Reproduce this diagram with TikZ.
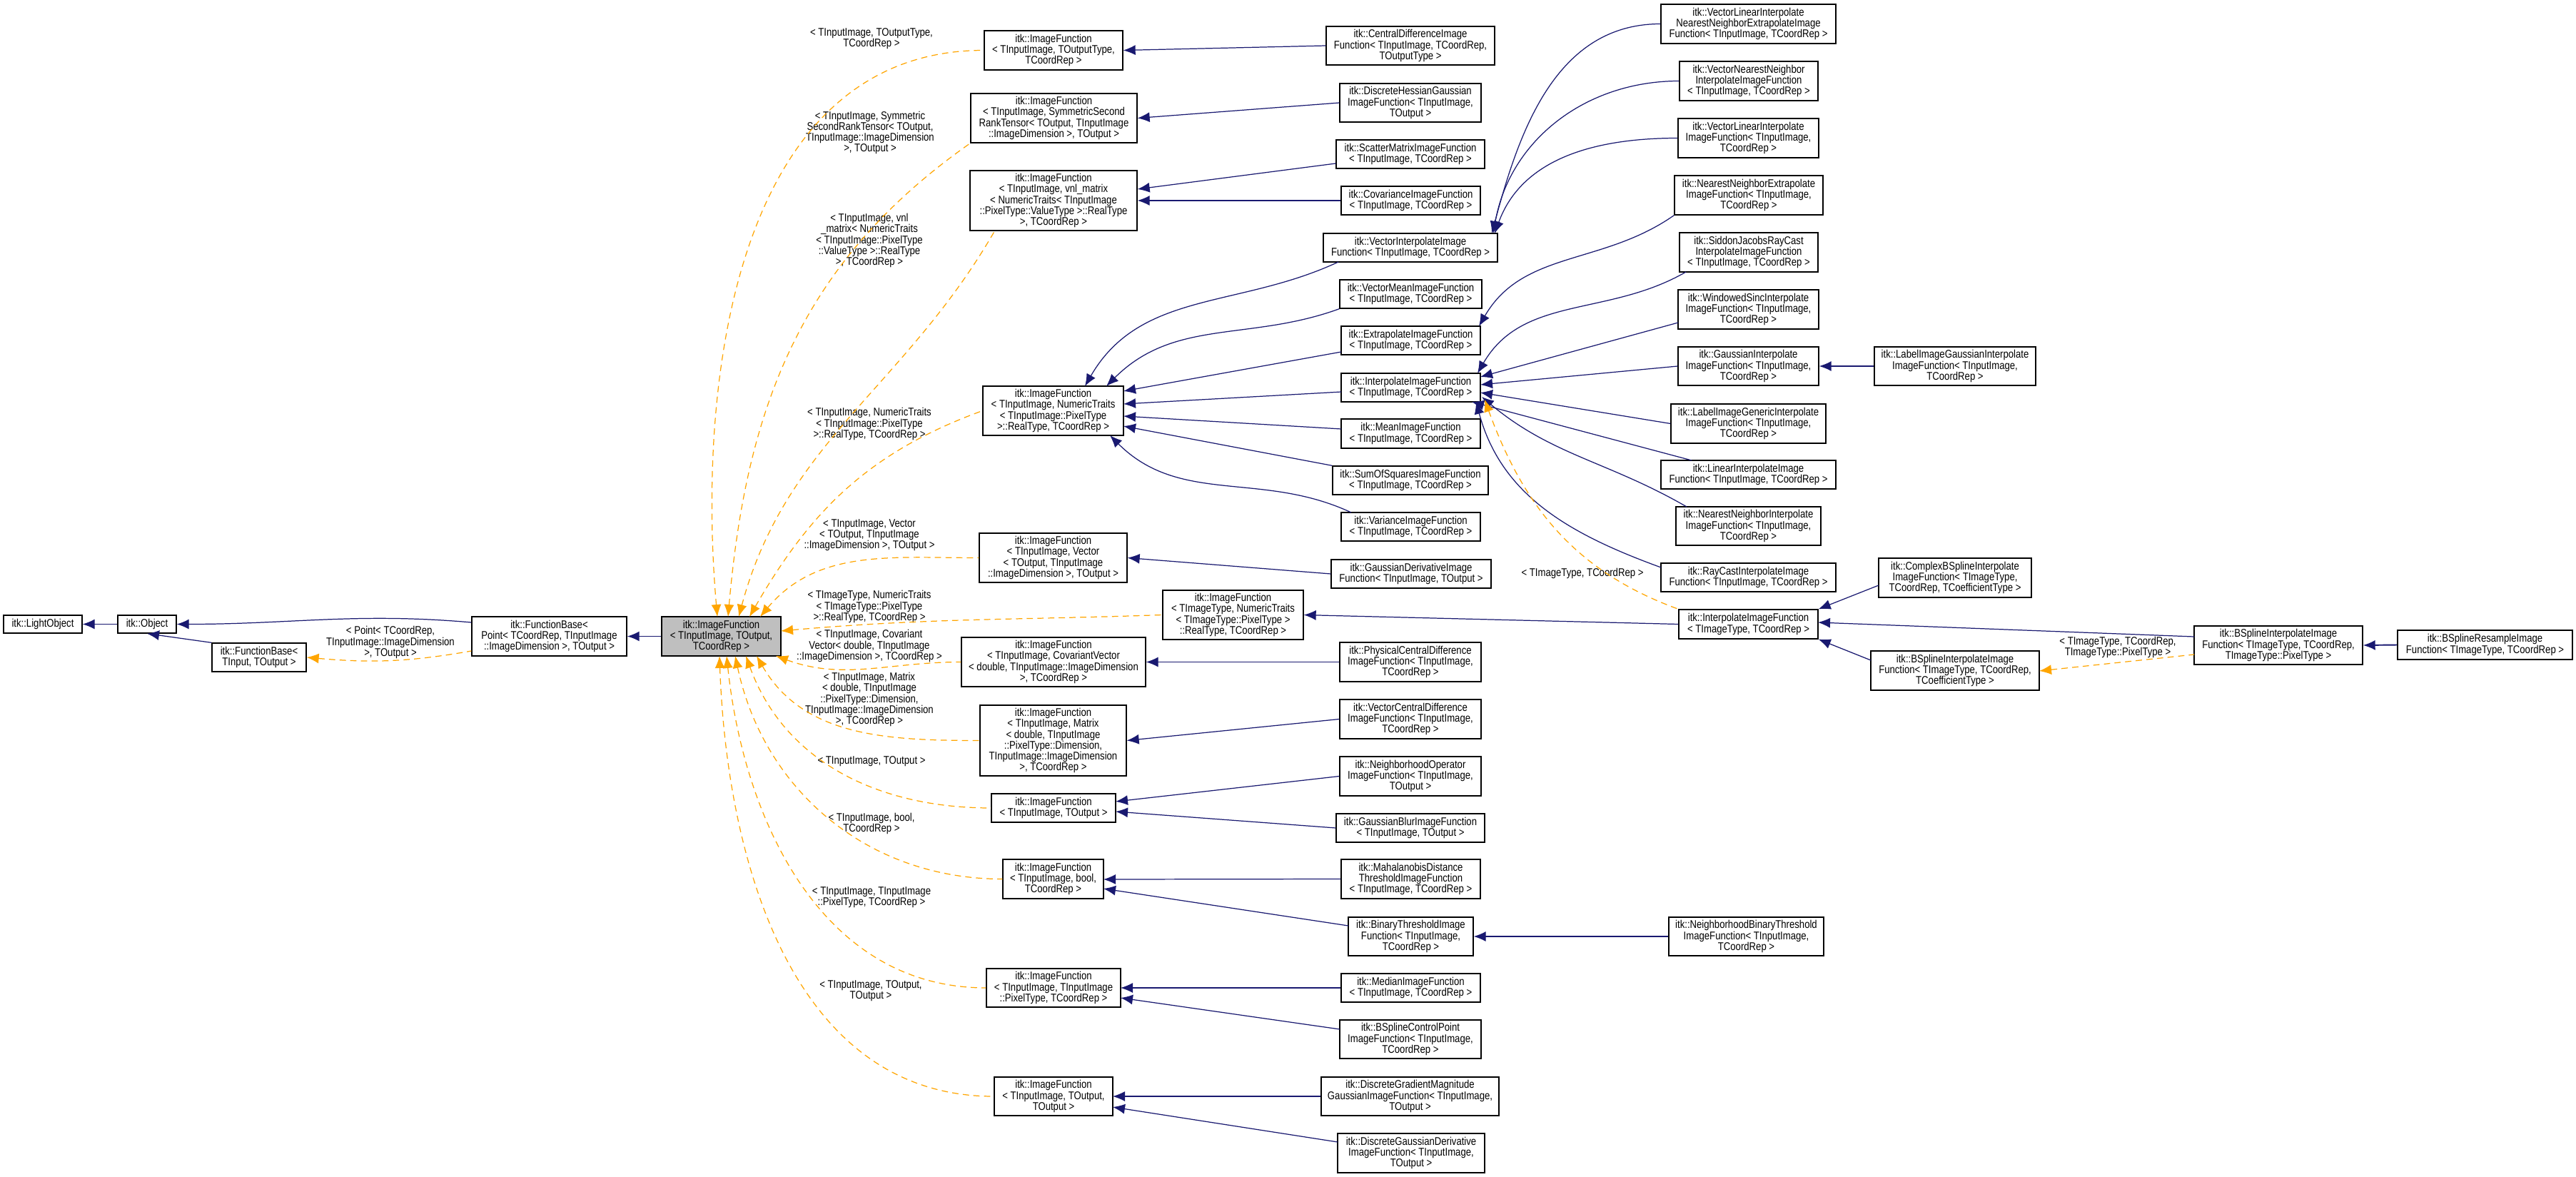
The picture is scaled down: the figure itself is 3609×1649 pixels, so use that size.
\documentclass[tikz,border=0pt]{standalone}
\usepackage{fontspec}
\setmainfont{Liberation Sans}[FakeStretch=0.84]
\usetikzlibrary{arrows.meta}
\definecolor{edgeblue}{HTML}{191970}
\definecolor{deporange}{HTML}{FFA500}
\tikzset{
  box/.style={draw=black,line width=0.75pt,fill=white,inner sep=0pt,align=center,font=\fontsize{8.9}{8.6}\selectfont},
  mainbox/.style={box,fill=black!25},
  lbl/.style={align=center,inner sep=0pt,font=\fontsize{8.9}{8.6}\selectfont},
  inh/.style={draw=edgeblue,line width=0.7pt,{Latex[length=3.4mm,width=2.8mm]}-},
  dep/.style={draw=deporange,line width=0.7pt,dashed,dash pattern=on 5pt off 3.5pt,{Latex[length=3.4mm,width=2.8mm]}-},
}
\newcommand\bx[7][box]{\node[#1,minimum width={(#5-#3)*0.02cm},minimum height={(#6-#4)*0.02cm}] (#2) at ({(#3+#5)/2},{(#4+#6)/2}) {#7};}
\begin{document}
\begin{tikzpicture}[x=0.02cm,y=-0.02cm]
\useasboundingbox (0,0) rectangle (3609,1649);
% left part
\bx{lo}{5}{862}{115}{887}{itk::LightObject}
\bx{obj}{165}{862}{247}{887}{itk::Object}
\bx{fbi}{297}{901}{429}{941}{itk::FunctionBase<\\TInput, TOutput >}
\bx{fbp}{661}{864}{878}{919}{itk::FunctionBase<\\Point< TCoordRep, TInputImage\\::ImageDimension >, TOutput >}
\bx[mainbox]{main}{927}{864}{1094}{919}{itk::ImageFunction\\< TInputImage, TOutput,\\TCoordRep >}
% template instances
\bx{ifa}{1379}{43}{1573}{98}{itk::ImageFunction\\< TInputImage, TOutputType,\\TCoordRep >}
\bx{ifb}{1360}{131}{1593}{200}{itk::ImageFunction\\< TInputImage, SymmetricSecond\\RankTensor< TOutput, TInputImage\\::ImageDimension >, TOutput >}
\bx{ifc}{1359}{239}{1593}{323}{itk::ImageFunction\\< TInputImage, vnl\_matrix\\< NumericTraits< TInputImage\\::PixelType::ValueType >::RealType\\>, TCoordRep >}
\bx{ifd}{1377}{541}{1574}{610}{itk::ImageFunction\\< TInputImage, NumericTraits\\< TInputImage::PixelType\\>::RealType, TCoordRep >}
\bx{ife}{1372}{747}{1579}{816}{itk::ImageFunction\\< TInputImage, Vector\\< TOutput, TInputImage\\::ImageDimension >, TOutput >}
\bx{iff}{1629}{827}{1826}{896}{itk::ImageFunction\\< TImageType, NumericTraits\\< TImageType::PixelType >\\::RealType, TCoordRep >}
\bx{ifg}{1347}{893}{1605}{962}{itk::ImageFunction\\< TInputImage, CovariantVector\\< double, TInputImage::ImageDimension\\>, TCoordRep >}
\bx{ifh}{1373}{988}{1578}{1087}{itk::ImageFunction\\< TInputImage, Matrix\\< double, TInputImage\\::PixelType::Dimension,\\TInputImage::ImageDimension\\>, TCoordRep >}
\bx{ifi}{1389}{1112}{1563}{1152}{itk::ImageFunction\\< TInputImage, TOutput >}
\bx{ifj}{1405}{1204}{1546}{1259}{itk::ImageFunction\\< TInputImage, bool,\\TCoordRep >}
\bx{ifk}{1382}{1357}{1570}{1411}{itk::ImageFunction\\< TInputImage, TInputImage\\::PixelType, TCoordRep >}
\bx{ifl}{1393}{1509}{1559}{1563}{itk::ImageFunction\\< TInputImage, TOutput,\\TOutput >}
% children column
\bx{cd}{1858}{37}{2094}{91}{itk::CentralDifferenceImage\\Function< TInputImage, TCoordRep,\\TOutputType >}
\bx{dh}{1877}{117}{2075}{171}{itk::DiscreteHessianGaussian\\ImageFunction< TInputImage,\\TOutput >}
\bx{sm}{1872}{196}{2080}{236}{itk::ScatterMatrixImageFunction\\< TInputImage, TCoordRep >}
\bx{cov}{1879}{261}{2074}{301}{itk::CovarianceImageFunction\\< TInputImage, TCoordRep >}
\bx{vi}{1854}{327}{2098}{367}{itk::VectorInterpolateImage\\Function< TInputImage, TCoordRep >}
\bx{vm}{1877}{392}{2076}{432}{itk::VectorMeanImageFunction\\< TInputImage, TCoordRep >}
\bx{ex}{1879}{457}{2074}{497}{itk::ExtrapolateImageFunction\\< TInputImage, TCoordRep >}
\bx{ip}{1879}{523}{2074}{563}{itk::InterpolateImageFunction\\< TInputImage, TCoordRep >}
\bx{mean}{1879}{587}{2074}{628}{itk::MeanImageFunction\\< TInputImage, TCoordRep >}
\bx{ss}{1867}{653}{2085}{693}{itk::SumOfSquaresImageFunction\\< TInputImage, TCoordRep >}
\bx{var}{1879}{718}{2074}{758}{itk::VarianceImageFunction\\< TInputImage, TCoordRep >}
\bx{gd}{1865}{784}{2089}{824}{itk::GaussianDerivativeImage\\Function< TInputImage, TOutput >}
\bx{pcd}{1877}{900}{2075}{955}{itk::PhysicalCentralDifference\\ImageFunction< TInputImage,\\TCoordRep >}
\bx{vcd}{1877}{980}{2075}{1035}{itk::VectorCentralDifference\\ImageFunction< TInputImage,\\TCoordRep >}
\bx{nbo}{1877}{1060}{2075}{1115}{itk::NeighborhoodOperator\\ImageFunction< TInputImage,\\TOutput >}
\bx{gb}{1872}{1140}{2080}{1180}{itk::GaussianBlurImageFunction\\< TInputImage, TOutput >}
\bx{mah}{1879}{1204}{2074}{1259}{itk::MahalanobisDistance\\ThresholdImageFunction\\< TInputImage, TCoordRep >}
\bx{bt}{1889}{1285}{2064}{1339}{itk::BinaryThresholdImage\\Function< TInputImage,\\TCoordRep >}
\bx{med}{1879}{1364}{2074}{1404}{itk::MedianImageFunction\\< TInputImage, TCoordRep >}
\bx{bcp}{1877}{1429}{2075}{1483}{itk::BSplineControlPoint\\ImageFunction< TInputImage,\\TCoordRep >}
\bx{dgm}{1851}{1509}{2100}{1563}{itk::DiscreteGradientMagnitude\\GaussianImageFunction< TInputImage,\\TOutput >}
\bx{dgd}{1874}{1588}{2080}{1643}{itk::DiscreteGaussianDerivative\\ImageFunction< TInputImage,\\TOutput >}
% third column
\bx{vlnn}{2327}{6}{2572}{61}{itk::VectorLinearInterpolate\\NearestNeighborExtrapolateImage\\Function< TInputImage, TCoordRep >}
\bx{vnn}{2353}{86}{2547}{141}{itk::VectorNearestNeighbor\\InterpolateImageFunction\\< TInputImage, TCoordRep >}
\bx{vli}{2351}{166}{2548}{221}{itk::VectorLinearInterpolate\\ImageFunction< TInputImage,\\TCoordRep >}
\bx{nne}{2346}{246}{2554}{301}{itk::NearestNeighborExtrapolate\\ImageFunction< TInputImage,\\TCoordRep >}
\bx{sj}{2353}{326}{2547}{381}{itk::SiddonJacobsRayCast\\InterpolateImageFunction\\< TInputImage, TCoordRep >}
\bx{ws}{2351}{406}{2548}{461}{itk::WindowedSincInterpolate\\ImageFunction< TInputImage,\\TCoordRep >}
\bx{gi}{2351}{486}{2548}{540}{itk::GaussianInterpolate\\ImageFunction< TInputImage,\\TCoordRep >}
\bx{lgi}{2626}{486}{2852}{540}{itk::LabelImageGaussianInterpolate\\ImageFunction< TInputImage,\\TCoordRep >}
\bx{lgen}{2341}{566}{2558}{621}{itk::LabelImageGenericInterpolate\\ImageFunction< TInputImage,\\TCoordRep >}
\bx{li}{2327}{645}{2572}{685}{itk::LinearInterpolateImage\\Function< TInputImage, TCoordRep >}
\bx{nni}{2348}{710}{2551}{764}{itk::NearestNeighborInterpolate\\ImageFunction< TInputImage,\\TCoordRep >}
\bx{rc}{2327}{789}{2572}{829}{itk::RayCastInterpolateImage\\Function< TInputImage, TCoordRep >}
\bx{ip2}{2352}{854}{2547}{895}{itk::InterpolateImageFunction\\< TImageType, TCoordRep >}
\bx{cbs}{2632}{782}{2846}{837}{itk::ComplexBSplineInterpolate\\ImageFunction< TImageType,\\TCoordRep, TCoefficientType >}
\bx{bsc}{2621}{912}{2857}{967}{itk::BSplineInterpolateImage\\Function< TImageType, TCoordRep,\\TCoefficientType >}
\bx{bsp}{3074}{877}{3310}{931}{itk::BSplineInterpolateImage\\Function< TImageType, TCoordRep,\\TImageType::PixelType >}
\bx{bsr}{3359}{883}{3604}{924}{itk::BSplineResampleImage\\Function< TImageType, TCoordRep >}
\bx{nbt}{2338}{1285}{2555}{1339}{itk::NeighborhoodBinaryThreshold\\ImageFunction< TInputImage,\\TCoordRep >}
% labels
\node[lbl] (l0) at (547,900) {< Point< TCoordRep,\\TInputImage::ImageDimension\\>, TOutput >};
\node[lbl] (la) at (1221,54) {< TInputImage, TOutputType,\\TCoordRep >};
\node[lbl] (lb) at (1219,186) {< TInputImage, Symmetric\\SecondRankTensor< TOutput,\\TInputImage::ImageDimension\\>, TOutput >};
\node[lbl] (lc) at (1218,337) {< TInputImage, vnl\\\_matrix< NumericTraits\\< TInputImage::PixelType\\::ValueType >::RealType\\>, TCoordRep >};
\node[lbl] (ld) at (1218,594) {< TInputImage, NumericTraits\\< TInputImage::PixelType\\>::RealType, TCoordRep >};
\node[lbl] (le) at (1218,750) {< TInputImage, Vector\\< TOutput, TInputImage\\::ImageDimension >, TOutput >};
\node[lbl] (lf) at (1218,850) {< TImageType, NumericTraits\\< TImageType::PixelType\\>::RealType, TCoordRep >};
\node[lbl] (lg) at (1218,905) {< TInputImage, Covariant\\Vector< double, TInputImage\\::ImageDimension >, TCoordRep >};
\node[lbl] (lh) at (1218,980) {< TInputImage, Matrix\\< double, TInputImage\\::PixelType::Dimension,\\TInputImage::ImageDimension\\>, TCoordRep >};
\node[lbl] (li) at (1221,1067) {< TInputImage, TOutput >};
\node[lbl] (lj) at (1221,1154) {< TInputImage, bool,\\TCoordRep >};
\node[lbl] (lk) at (1221,1257) {< TInputImage, TInputImage\\::PixelType, TCoordRep >};
\node[lbl] (ll) at (1220,1388) {< TInputImage, TOutput,\\TOutput >};
\node[lbl] (lm) at (2217,803) {< TImageType, TCoordRep >};
\node[lbl] (ln) at (2967,907) {< TImageType, TCoordRep,\\TImageType::PixelType >};
% anchor points on main
\coordinate (mt1) at (1005,864); \coordinate (mt2) at (1020,864); \coordinate (mt3) at (1035,864);
\coordinate (mt4) at (1050,864); \coordinate (mt5) at (1065,864); \coordinate (mr1) at (1094,884);
\coordinate (mr3) at (1087,919); \coordinate (mr4) at (1060,919);
\coordinate (mb1) at (1045,919); \coordinate (mb2) at (1030,919); \coordinate (mb3) at (1018,919); \coordinate (mb4) at (1008,919);
% left edges
\draw[inh] (lo.east) -- (obj.west);
\draw[inh] (obj.east) to[out=0,in=175] (fbp.west|-0,872);
\draw[inh] (obj.south) -- (fbi.north west);
\draw[dep] (fbi.east) to[out=-5,in=190] (fbp.west|-0,912);
\draw[inh,line width=1.1pt] (fbp.east) -- (main.west);
% dependency edges to main
\draw[dep] (mt1) to[out=95,in=180] (ifa.west);
\draw[dep] (mt2) to[out=85,in=215] (ifb.south west);
\draw[dep] (mt3) to[out=75,in=240] ([xshift=20]ifc.south west);
\draw[dep] (mt4) to[out=60,in=200] (ifd.west);
\draw[dep] (mt5) to[out=50,in=180] (ife.west);
\draw[dep] (mr1) to[out=5,in=182] (iff.west);
\draw[dep] (mr3) to[out=-20,in=180] (ifg.west);
\draw[dep] (mr4) to[out=-60,in=180] (ifh.west);
\draw[dep] (mb1) to[out=-70,in=180] (ifi.west);
\draw[dep] (mb2) to[out=-78,in=180] (ifj.west);
\draw[dep] (mb3) to[out=-84,in=180] (ifk.west);
\draw[dep] (mb4) to[out=-88,in=180] (ifl.west);
% children edges
\draw[inh] (ifa.east) -- (cd.west);
\draw[inh] (ifb.east) -- (dh.west);
\draw[inh] (ifc.east|-0,265) -- (sm.west|-0,229);
\draw[inh] (ifc.east|-0,281) -- (cov.west);
\draw[inh] (1520,541) to[out=60,in=205] (1875,367);
\draw[inh] (1550,541) to[out=45,in=200] (vm.south west);
\draw[inh] (1574,548) -- (1879,493);
\draw[inh] (1574,566) -- (1879,549);
\draw[inh] (1574,583) -- (1879,601);
\draw[inh] (1574,597) -- (ss.north west);
\draw[inh] (1555,610) to[out=-45,in=155] (1893,718);
\draw[inh] (ife.east) -- (gd.west);
\draw[inh] (iff.east) -- (ip2.west);
\draw[inh] (ifg.east) -- (pcd.west);
\draw[inh] (ifh.east) -- (vcd.west);
\draw[inh] (1563,1123) -- (nbo.west);
\draw[inh] (1563,1137) -- (gb.west);
\draw[inh] (1546,1232) -- (mah.west);
\draw[inh] (1546,1245) -- (1889,1297);
\draw[inh] (bt.east) -- (nbt.west);
\draw[inh] (1570,1384) -- (med.west);
\draw[inh] (1570,1398) -- (1877,1442);
\draw[inh] (1559,1536) -- (dgm.west);
\draw[inh] (1559,1551) -- (1874,1600);
% vector interpolate
\draw[inh] (2090,327) to[out=75,in=180] (vlnn.west);
\draw[inh] (2092,327) to[out=80,in=180] (vnn.west);
\draw[inh] (2094,327) to[out=70,in=180] (vli.west);
\draw[inh] (2072,457) to[out=60,in=215] (nne.south west);
\draw[inh] (2070,523) to[out=60,in=210] (2362,381);
\draw[inh] (2074,528) -- (2351,452);
\draw[inh] (2074,539) -- (gi.west);
\draw[inh] (2074,550) -- (lgen.west);
\draw[inh] (2062,563) -- (2370,645);
\draw[inh] (2076,556) to[out=-40,in=150] (2363,710);
\draw[inh] (2068,563) to[out=-75,in=160] (2327,795);
\draw[dep] (2080,560) to[out=-70,in=160] (ip2.north west);
\draw[inh] (gi.east) -- (lgi.west);
% bspline
\draw[inh] (ip2.north east) -- (2632,820);
\draw[inh] (2547,872) -- (3074,892);
\draw[inh] (ip2.south east) -- (2621,925);
\draw[dep] (2857,940) -- (3074,917);
\draw[inh,line width=1.1pt] (bsp.east) -- (bsr.west);
\end{tikzpicture}
\end{document}
